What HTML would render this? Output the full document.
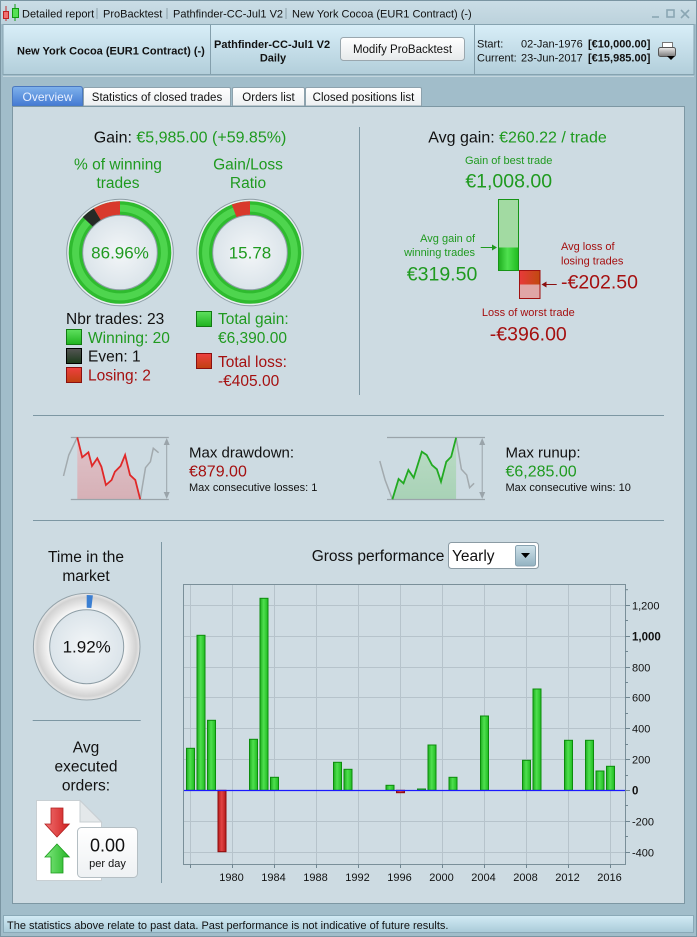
<!DOCTYPE html>
<html><head><meta charset="utf-8"><style>
html,body{margin:0;padding:0;}
body{width:697px;height:937px;overflow:hidden;background:#a1bdca;font-family:"Liberation Sans",sans-serif;}
svg{position:absolute;left:0;top:0;display:block;}
</style></head><body>
<svg width="697" height="937" viewBox="0 0 697 937" xmlns="http://www.w3.org/2000/svg" font-family="Liberation Sans, sans-serif">
<defs>
<linearGradient id="hdr" x1="0" y1="0" x2="0" y2="1"><stop offset="0" stop-color="#d8eef8"/><stop offset="1" stop-color="#b2ceda"/></linearGradient>
<linearGradient id="ttl" x1="0" y1="0" x2="0" y2="1"><stop offset="0" stop-color="#cadde6"/><stop offset="1" stop-color="#bcd2dc"/></linearGradient>
<linearGradient id="stat" x1="0" y1="0" x2="0" y2="1"><stop offset="0" stop-color="#d2ebf5"/><stop offset="1" stop-color="#a9cad8"/></linearGradient>
<linearGradient id="btn" x1="0" y1="0" x2="0" y2="1"><stop offset="0" stop-color="#ffffff"/><stop offset="1" stop-color="#e6e9eb"/></linearGradient>
<linearGradient id="tabA" x1="0" y1="0" x2="0" y2="1"><stop offset="0" stop-color="#7fb2ec"/><stop offset="1" stop-color="#4379d2"/></linearGradient>
<linearGradient id="tabB" x1="0" y1="0" x2="0" y2="1"><stop offset="0" stop-color="#ffffff"/><stop offset="1" stop-color="#eceff1"/></linearGradient>
<linearGradient id="gB" x1="0" y1="0" x2="1" y2="0"><stop offset="0" stop-color="#1eae1e"/><stop offset="0.45" stop-color="#4fe04f"/><stop offset="1" stop-color="#1fbb1f"/></linearGradient>
<linearGradient id="rB" x1="0" y1="0" x2="1" y2="0"><stop offset="0" stop-color="#b51a1a"/><stop offset="0.45" stop-color="#e24444"/><stop offset="1" stop-color="#b51a1a"/></linearGradient>
<linearGradient id="gSq" x1="0" y1="0" x2="0" y2="1"><stop offset="0" stop-color="#5fe05f"/><stop offset="1" stop-color="#1fb31f"/></linearGradient>
<linearGradient id="rSq" x1="0" y1="0" x2="0" y2="1"><stop offset="0" stop-color="#ee4040"/><stop offset="1" stop-color="#c04010"/></linearGradient>
<linearGradient id="kSq" x1="0" y1="0" x2="0" y2="1"><stop offset="0" stop-color="#555"/><stop offset="1" stop-color="#1a3a1a"/></linearGradient>
<linearGradient id="rBig" x1="0" y1="0" x2="1" y2="0"><stop offset="0" stop-color="#e83a3a"/><stop offset="1" stop-color="#c04a10"/></linearGradient>
<radialGradient id="inner" cx="0.5" cy="0.5" r="0.5"><stop offset="0" stop-color="#f3f6f8"/><stop offset="1" stop-color="#dbe4ea"/></radialGradient>
<radialGradient id="grayRing" cx="0.5" cy="0.5" r="0.5"><stop offset="0.68" stop-color="#fbfbfb"/><stop offset="0.93" stop-color="#d2d2d2"/><stop offset="1" stop-color="#eaeaea"/></radialGradient>
<linearGradient id="ddF" x1="0" y1="0" x2="0" y2="1"><stop offset="0" stop-color="#e0c4ca"/><stop offset="1" stop-color="#d6b0b6"/></linearGradient>
<linearGradient id="ruF" x1="0" y1="0" x2="0" y2="1"><stop offset="0" stop-color="#bcdcc6"/><stop offset="1" stop-color="#a8d2b6"/></linearGradient>
<linearGradient id="ddBtn" x1="0" y1="0" x2="0" y2="1"><stop offset="0" stop-color="#cfe2ea"/><stop offset="1" stop-color="#93b2c1"/></linearGradient>
<linearGradient id="prn" x1="0" y1="0" x2="0" y2="1"><stop offset="0" stop-color="#eeeeee"/><stop offset="1" stop-color="#7a7a7a"/></linearGradient>
<linearGradient id="arR" x1="0" y1="0" x2="1" y2="0"><stop offset="0" stop-color="#f07070"/><stop offset="1" stop-color="#d02020"/></linearGradient>
<linearGradient id="arG" x1="0" y1="0" x2="1" y2="0"><stop offset="0" stop-color="#7fe87f"/><stop offset="1" stop-color="#25b525"/></linearGradient>
<linearGradient id="box" x1="0" y1="0" x2="0" y2="1"><stop offset="0" stop-color="#ffffff"/><stop offset="1" stop-color="#eef1f3"/></linearGradient>
</defs>

<rect x="0.5" y="0.5" width="696" height="936" fill="#a1bdca" stroke="#7a95a2"/>
<rect x="1" y="1" width="695" height="23" fill="url(#ttl)"/>
<line x1="6" y1="6" x2="6" y2="21" stroke="#c03030"/>
<rect x="3.5" y="11.5" width="5" height="7" fill="#f07070" stroke="#c02020"/>
<line x1="15" y1="4" x2="15" y2="21" stroke="#119911"/>
<rect x="12.5" y="8.5" width="6" height="9" fill="#55e055" stroke="#119911"/>
<g font-size="11" fill="#111">
<text x="22" y="17.5">Detailed report</text>
<text x="103" y="17.5">ProBacktest</text>
<text x="173" y="17.5">Pathfinder-CC-Jul1 V2</text>
<text x="292" y="17.5">New York Cocoa (EUR1 Contract) (-)</text>
</g>
<g stroke="#8a9ea8"><line x1="97" y1="8" x2="97" y2="19"/><line x1="167" y1="8" x2="167" y2="19"/><line x1="286" y1="8" x2="286" y2="19"/></g>
<g stroke="#8aa6b3" stroke-width="1.6" fill="none">
<line x1="652" y1="17" x2="659" y2="17"/>
<rect x="667" y="10" width="7" height="7"/>
<line x1="681" y1="10" x2="689" y2="18"/><line x1="689" y1="10" x2="681" y2="18"/>
</g>

<rect x="3" y="24.5" width="691" height="50" fill="url(#hdr)" stroke="#86a3b0"/>
<line x1="3" y1="76.5" x2="694" y2="76.5" stroke="#c3d6de"/>
<line x1="210.5" y1="25" x2="210.5" y2="74" stroke="#849fac"/>
<line x1="474.5" y1="25" x2="474.5" y2="74" stroke="#849fac"/>
<text x="17" y="54.5" font-size="11" font-weight="bold" fill="#111">New York Cocoa (EUR1 Contract) (-)</text>
<text x="214" y="48" font-size="11" font-weight="bold" fill="#111">Pathfinder-CC-Jul1 V2</text>
<text x="273" y="61.5" font-size="11" font-weight="bold" fill="#111" text-anchor="middle">Daily</text>
<rect x="340.5" y="37.5" width="124" height="23" rx="3" fill="url(#btn)" stroke="#9aa7ae"/>
<text x="402.5" y="53" font-size="11.5" fill="#111" text-anchor="middle">Modify ProBacktest</text>
<g font-size="11" fill="#111">
<text x="477" y="47.5">Start:</text><text x="521" y="47.5">02-Jan-1976</text><text x="588" y="47.5" font-weight="bold">[€10,000.00]</text>
<text x="477" y="61.5">Current:</text><text x="521" y="61.5">23-Jun-2017</text><text x="588" y="61.5" font-weight="bold">[€15,985.00]</text>
</g>
<rect x="662.5" y="42.5" width="10" height="6" fill="#fff" stroke="#777"/>
<rect x="658.5" y="47.5" width="17" height="9" rx="2" fill="url(#prn)" stroke="#555"/>
<polygon points="667,56 675,56 671,60" fill="#000"/>

<path d="M12.5,106 V89 Q12.5,86.5 15,86.5 H80 Q82.5,86.5 82.5,89 V106 Z" fill="url(#tabA)" stroke="#4a78c0"/>
<text x="47.5" y="101" font-size="12" fill="#e8f0ff" text-anchor="middle">Overview</text>
<path d="M83.5,106 V89 Q83.5,87.5 85,87.5 H229 Q230.5,87.5 230.5,89 V106 Z" fill="url(#tabB)" stroke="#8da2ad"/>
<text x="157" y="101" font-size="11.5" fill="#111" text-anchor="middle">Statistics of closed trades</text>
<path d="M232.5,106 V89 Q232.5,87.5 234,87.5 H303 Q304.5,87.5 304.5,89 V106 Z" fill="url(#tabB)" stroke="#8da2ad"/>
<text x="268.5" y="101" font-size="11.5" fill="#111" text-anchor="middle">Orders list</text>
<path d="M305.5,106 V89 Q305.5,87.5 307,87.5 H420 Q421.5,87.5 421.5,89 V106 Z" fill="url(#tabB)" stroke="#8da2ad"/>
<text x="363.5" y="101" font-size="11.5" fill="#111" text-anchor="middle">Closed positions list</text>

<rect x="12.5" y="106.5" width="672" height="797" fill="#cddbe2" stroke="#7d97a3"/>

<text x="190" y="142.5" font-size="16" text-anchor="middle" fill="#111">Gain: <tspan fill="#1f9a1f">€5,985.00 (+59.85%)</tspan></text>
<g font-size="15.5" fill="#1f9a1f" text-anchor="middle">
<text x="118" y="169.5">% of winning</text><text x="118" y="188">trades</text>
<text x="248" y="169.5">Gain/Loss</text><text x="248" y="188">Ratio</text>
</g>

<g>
<circle cx="120" cy="252.5" r="53.3" fill="#e8eef1" stroke="#8d9da5"/>
<circle cx="120" cy="252.5" r="44.4" fill="none" stroke="#2fbb2f" stroke-width="13.8"/>
<circle cx="120" cy="252.5" r="44.4" fill="none" stroke="#4ed54e" stroke-width="7"/>
<g transform="rotate(-90 120 252.5)">
<circle cx="120" cy="252.5" r="44.4" fill="none" stroke="#262a26" stroke-width="13.8" stroke-dasharray="0 242.6 12.2 300"/>
<circle cx="120" cy="252.5" r="44.4" fill="none" stroke="#d8392c" stroke-width="13.8" stroke-dasharray="0 254.7 24.3 300"/>
</g>
<circle cx="120" cy="252.5" r="37.3" fill="url(#inner)" stroke="#8d9da5"/>
<text x="120" y="258.5" font-size="17" fill="#1f9a1f" text-anchor="middle">86.96%</text>
</g>
<g>
<circle cx="250" cy="252.5" r="53.3" fill="#e8eef1" stroke="#8d9da5"/>
<circle cx="250" cy="252.5" r="44.4" fill="none" stroke="#2fbb2f" stroke-width="13.8"/>
<circle cx="250" cy="252.5" r="44.4" fill="none" stroke="#4ed54e" stroke-width="7"/>
<g transform="rotate(-90 250 252.5)">
<circle cx="250" cy="252.5" r="44.4" fill="none" stroke="#d8392c" stroke-width="13.8" stroke-dasharray="0 262.4 16.6 300"/>
</g>
<circle cx="250" cy="252.5" r="37.3" fill="url(#inner)" stroke="#8d9da5"/>
<text x="250" y="258.5" font-size="17" fill="#1f9a1f" text-anchor="middle">15.78</text>
</g>

<text x="66" y="324" font-size="15.5" fill="#111">Nbr trades: 23</text>
<rect x="66.5" y="329.5" width="15" height="15" fill="url(#gSq)" stroke="#127a12"/>
<text x="88" y="343" font-size="15.5" fill="#1f9a1f">Winning: 20</text>
<rect x="66.5" y="348.5" width="15" height="15" fill="url(#kSq)" stroke="#000"/>
<text x="88" y="361.5" font-size="15.5" fill="#111">Even: 1</text>
<rect x="66.5" y="367.5" width="15" height="15" fill="url(#rSq)" stroke="#8a1010"/>
<text x="88" y="380.5" font-size="15.5" fill="#a51010">Losing: 2</text>

<rect x="196.5" y="311.5" width="15" height="15" fill="url(#gSq)" stroke="#127a12"/>
<text x="218" y="324" font-size="15.5" fill="#1f9a1f">Total gain:</text>
<text x="218" y="343" font-size="15.5" fill="#1f9a1f">€6,390.00</text>
<rect x="196.5" y="353.5" width="15" height="15" fill="url(#rSq)" stroke="#8a1010"/>
<text x="218" y="367" font-size="15.5" fill="#a51010">Total loss:</text>
<text x="218" y="386" font-size="15.5" fill="#a51010">-€405.00</text>

<line x1="359.5" y1="127" x2="359.5" y2="395" stroke="#7d97a3"/>

<text x="517.5" y="142.5" font-size="16" text-anchor="middle" fill="#111">Avg gain: <tspan fill="#1f9a1f">€260.22 / trade</tspan></text>
<text x="508.7" y="164" font-size="11" fill="#1f9a1f" text-anchor="middle">Gain of best trade</text>
<text x="508.7" y="187.5" font-size="19.5" fill="#1f9a1f" text-anchor="middle">€1,008.00</text>
<rect x="498.5" y="199.5" width="20" height="48" fill="#a2daa2"/>
<rect x="498.5" y="247.5" width="20" height="23" fill="url(#gB)"/>
<rect x="498.5" y="199.5" width="20" height="71" fill="none" stroke="#169416"/>
<rect x="519.5" y="270.5" width="20.5" height="14" fill="url(#rBig)"/>
<rect x="519.5" y="284.5" width="20.5" height="14" fill="#e0a6a6"/>
<rect x="519.5" y="270.5" width="20.5" height="28" fill="none" stroke="#a01010"/>
<text x="475" y="242" font-size="11" fill="#1f9a1f" text-anchor="end">Avg gain of</text>
<text x="475" y="256" font-size="11" fill="#1f9a1f" text-anchor="end">winning trades</text>
<line x1="480.7" y1="247.5" x2="494" y2="247.5" stroke="#1f9a1f"/>
<polygon points="497,247.5 492,244.5 492,250.5" fill="#1f9a1f"/>
<text x="477.3" y="280.3" font-size="19.5" fill="#1f9a1f" text-anchor="end">€319.50</text>
<text x="561" y="250" font-size="11" fill="#a51010">Avg loss of</text>
<text x="561" y="264.3" font-size="11" fill="#a51010">losing trades</text>
<line x1="544" y1="284.5" x2="556.7" y2="284.5" stroke="#8a1010"/>
<polygon points="541.5,284.5 546.5,281.5 546.5,287.5" fill="#8a1010"/>
<text x="561" y="288.7" font-size="19.5" fill="#a51010">-€202.50</text>
<text x="528.3" y="316" font-size="11" fill="#a51010" text-anchor="middle">Loss of worst trade</text>
<text x="528.3" y="340.3" font-size="19.5" fill="#a51010" text-anchor="middle">-€396.00</text>

<line x1="33" y1="415.5" x2="664" y2="415.5" stroke="#7d97a3"/>
<line x1="33" y1="520.5" x2="664" y2="520.5" stroke="#7d97a3"/>

<polygon points="77.3,437.3 82.2,457.3 88.4,452.3 92,466 97.3,458.3 101.4,466.7 105.9,485 111.6,480 114.9,471.7 120.6,466 125.1,455 130,475 135.3,480 140.2,499.3 77.3,499.3" fill="url(#ddF)"/>
<line x1="70.8" y1="437.5" x2="168.8" y2="437.5" stroke="#9aa4aa" stroke-width="1.3"/>
<line x1="70.8" y1="499.5" x2="168.8" y2="499.5" stroke="#9aa4aa" stroke-width="1.3"/>
<polyline points="63.5,476 68.8,455 77.3,437.3" fill="none" stroke="#a2aaae" stroke-width="1.5"/>
<polyline points="140.2,499.3 145.5,467.7 150.4,461.7 153.3,448.3 158.6,452.7" fill="none" stroke="#a2aaae" stroke-width="1.5"/>
<polyline points="77.3,437.3 82.2,457.3 88.4,452.3 92,466 97.3,458.3 101.4,466.7 105.9,485 111.6,480 114.9,471.7 120.6,466 125.1,455 130,475 135.3,480 140.2,499.3" fill="none" stroke="#e02828" stroke-width="1.8"/>
<line x1="166.7" y1="441" x2="166.7" y2="496" stroke="#9aa4aa"/>
<polygon points="166.7,438 163.7,445 169.7,445" fill="#9aa4aa"/>
<polygon points="166.7,499 163.7,492 169.7,492" fill="#9aa4aa"/>
<text x="189" y="457.5" font-size="15" fill="#111">Max drawdown:</text>
<text x="189" y="476.5" font-size="16" fill="#a51010">€879.00</text>
<text x="189" y="491" font-size="11" fill="#111">Max consecutive losses: 1</text>

<polygon points="392.4,499.3 398.6,479 403.5,483.3 408.4,470 413.7,477.7 421.8,451.7 426.7,455 432,465 436.9,469.3 441,481.7 446.3,461.7 451.2,456.7 456.1,437.7 456.1,499.3" fill="url(#ruF)"/>
<line x1="387" y1="437.5" x2="485" y2="437.5" stroke="#9aa4aa" stroke-width="1.3"/>
<line x1="387" y1="499.5" x2="485" y2="499.5" stroke="#9aa4aa" stroke-width="1.3"/>
<polyline points="379.8,461 385.1,480 392.4,499.3" fill="none" stroke="#a2aaae" stroke-width="1.5"/>
<polyline points="456.1,437.7 461.4,469.3 466.7,475 469.6,487.7 474.1,483.3" fill="none" stroke="#a2aaae" stroke-width="1.5"/>
<polyline points="392.4,499.3 398.6,479 403.5,483.3 408.4,470 413.7,477.7 421.8,451.7 426.7,455 432,465 436.9,469.3 441,481.7 446.3,461.7 451.2,456.7 456.1,437.7" fill="none" stroke="#22aa22" stroke-width="1.8"/>
<line x1="482.2" y1="441" x2="482.2" y2="496" stroke="#9aa4aa"/>
<polygon points="482.2,438 479.2,445 485.2,445" fill="#9aa4aa"/>
<polygon points="482.2,499 479.2,492 485.2,492" fill="#9aa4aa"/>
<text x="505.5" y="457.5" font-size="15" fill="#111">Max runup:</text>
<text x="505.5" y="476.5" font-size="16" fill="#1f9a1f">€6,285.00</text>
<text x="505.5" y="491" font-size="11" fill="#111">Max consecutive wins: 10</text>

<line x1="161.5" y1="542" x2="161.5" y2="883" stroke="#7d97a3"/>
<text x="86" y="562" font-size="15.5" fill="#111" text-anchor="middle">Time in the</text>
<text x="86" y="581" font-size="15.5" fill="#111" text-anchor="middle">market</text>
<circle cx="86.7" cy="646.7" r="53.3" fill="url(#grayRing)" stroke="#95a3aa"/>
<g transform="rotate(-90 86.7 646.7)">
<circle cx="86.7" cy="646.7" r="45.3" fill="none" stroke="#3b7fd2" stroke-width="12.7" stroke-dasharray="5.5 300"/>
</g>
<circle cx="86.7" cy="646.7" r="37" fill="url(#inner)" stroke="#8d9da5"/>
<text x="86.7" y="652.5" font-size="17" fill="#111" text-anchor="middle">1.92%</text>
<line x1="32.7" y1="720.5" x2="140.7" y2="720.5" stroke="#7d97a3"/>
<text x="86" y="752.5" font-size="15.5" fill="#111" text-anchor="middle">Avg</text>
<text x="86" y="771.5" font-size="15.5" fill="#111" text-anchor="middle">executed</text>
<text x="86" y="790.5" font-size="15.5" fill="#111" text-anchor="middle">orders:</text>
<path d="M36.5,800.5 H80 L101.5,822 V880.5 H36.5 Z" fill="#ffffff" stroke="#c8cfd3"/>
<path d="M80,800.5 V822 H101.5 Z" fill="#e4e8ea" stroke="#c8cfd3"/>
<path d="M51,808 H63 V824 H69.3 L57,837 L45,824 H51 Z" fill="url(#arR)" stroke="#b02020" stroke-width="0.8"/>
<path d="M57,844 L69.3,857 H63 V873 H51 V857 H45 Z" fill="url(#arG)" stroke="#1a9a1a" stroke-width="0.8"/>
<rect x="77.5" y="827.5" width="60" height="50" rx="4" fill="url(#box)" stroke="#b4bec3"/>
<text x="107.5" y="851.5" font-size="18" fill="#111" text-anchor="middle">0.00</text>
<text x="107.5" y="867" font-size="11" fill="#111" text-anchor="middle">per day</text>

<text x="311.7" y="561" font-size="15.5" fill="#111">Gross performance</text>
<rect x="448.5" y="542.5" width="90" height="26" rx="3" fill="#fff" stroke="#8b9ba4"/>
<text x="452" y="561" font-size="15.5" fill="#111">Yearly</text>
<rect x="515.5" y="545.5" width="20" height="20.5" rx="2" fill="url(#ddBtn)" stroke="#88a2b0"/>
<polygon points="521,553 530,553 525.5,558" fill="#000"/>

<rect x="183.5" y="584.5" width="442" height="280" fill="#cfdce3" stroke="#7a8f99"/>
<g stroke="#b6c3cb" stroke-width="1">
<line x1="184" y1="605.5" x2="625" y2="605.5"/>
<line x1="184" y1="636.5" x2="625" y2="636.5"/>
<line x1="184" y1="667.5" x2="625" y2="667.5"/>
<line x1="184" y1="697.5" x2="625" y2="697.5"/>
<line x1="184" y1="728.5" x2="625" y2="728.5"/>
<line x1="184" y1="759.5" x2="625" y2="759.5"/>
<line x1="184" y1="821.5" x2="625" y2="821.5"/>
<line x1="184" y1="852.5" x2="625" y2="852.5"/>
<line x1="190.5" y1="585" x2="190.5" y2="864"/>
<line x1="232.5" y1="585" x2="232.5" y2="864"/>
<line x1="274.5" y1="585" x2="274.5" y2="864"/>
<line x1="316.5" y1="585" x2="316.5" y2="864"/>
<line x1="358.5" y1="585" x2="358.5" y2="864"/>
<line x1="400.5" y1="585" x2="400.5" y2="864"/>
<line x1="442.5" y1="585" x2="442.5" y2="864"/>
<line x1="484.5" y1="585" x2="484.5" y2="864"/>
<line x1="526.5" y1="585" x2="526.5" y2="864"/>
<line x1="568.5" y1="585" x2="568.5" y2="864"/>
<line x1="610.5" y1="585" x2="610.5" y2="864"/>
</g>
<g stroke="#0c8c0c" stroke-width="1" fill="url(#gB)">
<rect x="186.5" y="748.3" width="8" height="42"/>
<rect x="197" y="635.3" width="8" height="155"/>
<rect x="207.5" y="720.3" width="8" height="70"/>
<rect x="249.5" y="739.3" width="8" height="51"/>
<rect x="260" y="598.3" width="8" height="192"/>
<rect x="270.5" y="777.3" width="8" height="13"/>
<rect x="333.5" y="762.3" width="8" height="28"/>
<rect x="344" y="769.3" width="8" height="21"/>
<rect x="386" y="785.3" width="8" height="5"/>
<rect x="417.5" y="789" width="8" height="1.3"/>
<rect x="428" y="745" width="8" height="45.3"/>
<rect x="449" y="777.3" width="8" height="13"/>
<rect x="480.5" y="716" width="8" height="74.3"/>
<rect x="522.5" y="760.3" width="8" height="30"/>
<rect x="533" y="689" width="8" height="101.3"/>
<rect x="564.5" y="740.3" width="8" height="50"/>
<rect x="585.5" y="740.3" width="8" height="50"/>
<rect x="596" y="771" width="8" height="19.3"/>
<rect x="606.5" y="766.3" width="8" height="24"/>
</g>
<g stroke="#8c0c0c" stroke-width="1" fill="url(#rB)">
<rect x="218" y="790.3" width="8" height="61.4"/>
<rect x="396.5" y="790.3" width="8" height="2.4"/>
</g>
<line x1="184" y1="790.5" x2="625" y2="790.5" stroke="#1a1aff" stroke-width="1.2"/>
<g stroke="#6f8590">
<line x1="625" y1="589.7" x2="628" y2="589.7"/>
<line x1="625" y1="605.5" x2="630" y2="605.5"/>
<line x1="625" y1="620.5" x2="628" y2="620.5"/>
<line x1="625" y1="636.5" x2="630" y2="636.5"/>
<line x1="625" y1="651.5" x2="628" y2="651.5"/>
<line x1="625" y1="667.5" x2="630" y2="667.5"/>
<line x1="625" y1="682.5" x2="628" y2="682.5"/>
<line x1="625" y1="697.5" x2="630" y2="697.5"/>
<line x1="625" y1="713.5" x2="628" y2="713.5"/>
<line x1="625" y1="728.5" x2="630" y2="728.5"/>
<line x1="625" y1="744.5" x2="628" y2="744.5"/>
<line x1="625" y1="759.5" x2="630" y2="759.5"/>
<line x1="625" y1="775.5" x2="628" y2="775.5"/>
<line x1="625" y1="790.5" x2="630" y2="790.5"/>
<line x1="625" y1="805.5" x2="628" y2="805.5"/>
<line x1="625" y1="821.5" x2="630" y2="821.5"/>
<line x1="625" y1="836.5" x2="628" y2="836.5"/>
<line x1="625" y1="852.5" x2="630" y2="852.5"/>
<line x1="190.5" y1="864" x2="190.5" y2="868"/>
<line x1="232.5" y1="864" x2="232.5" y2="868"/>
<line x1="274.5" y1="864" x2="274.5" y2="868"/>
<line x1="316.5" y1="864" x2="316.5" y2="868"/>
<line x1="358.5" y1="864" x2="358.5" y2="868"/>
<line x1="400.5" y1="864" x2="400.5" y2="868"/>
<line x1="442.5" y1="864" x2="442.5" y2="868"/>
<line x1="484.5" y1="864" x2="484.5" y2="868"/>
<line x1="526.5" y1="864" x2="526.5" y2="868"/>
<line x1="568.5" y1="864" x2="568.5" y2="868"/>
<line x1="610.5" y1="864" x2="610.5" y2="868"/>
</g>
<g font-size="11" fill="#111">
<text x="632" y="609.5">1,200</text>
<text x="632" y="640.5" font-weight="bold" font-size="11.5">1,000</text>
<text x="632" y="671.5">800</text>
<text x="632" y="701.5">600</text>
<text x="632" y="732.5">400</text>
<text x="632" y="763.5">200</text>
<text x="632" y="794.5" font-weight="bold" font-size="11.5">0</text>
<text x="632" y="825.5">-200</text>
<text x="632" y="856.5">-400</text>
</g>
<g font-size="11" fill="#111" text-anchor="middle">
<text x="231.5" y="881">1980</text>
<text x="273.5" y="881">1984</text>
<text x="315.5" y="881">1988</text>
<text x="357.5" y="881">1992</text>
<text x="399.5" y="881">1996</text>
<text x="441.5" y="881">2000</text>
<text x="483.5" y="881">2004</text>
<text x="525.5" y="881">2008</text>
<text x="567.5" y="881">2012</text>
<text x="609.5" y="881">2016</text>
</g>

<rect x="3.5" y="915.5" width="690" height="17" fill="url(#stat)" stroke="#8aa9b7"/>
<text x="7" y="929" font-size="11" fill="#111">The statistics above relate to past data. Past performance is not indicative of future results.</text>
</svg>
</body></html>
